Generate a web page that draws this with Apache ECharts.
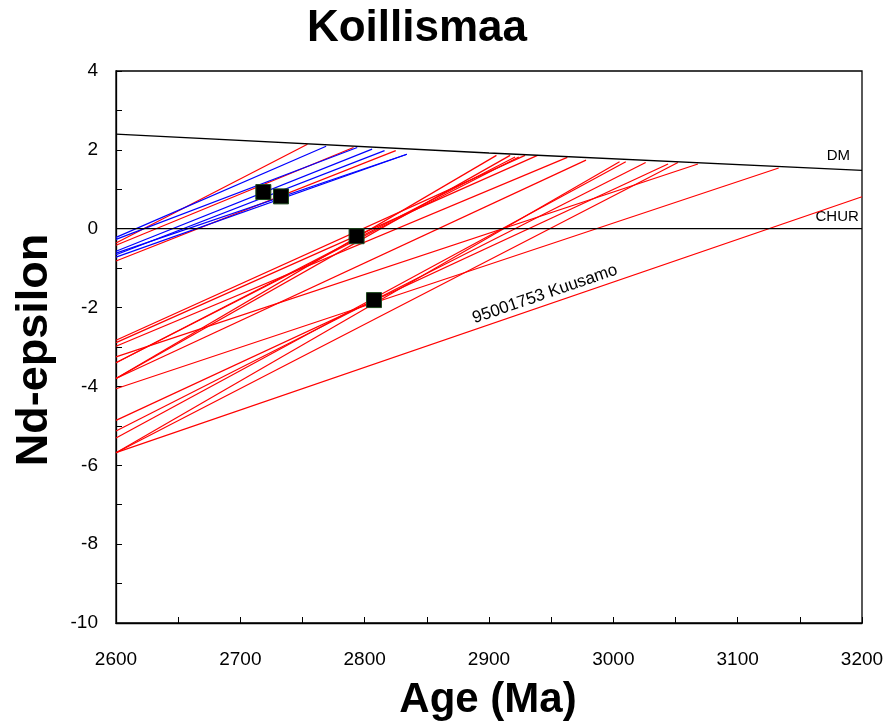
<!DOCTYPE html>
<html><head><meta charset="utf-8">
<script src="https://cdn.jsdelivr.net/npm/echarts@6/dist/echarts.min.js"></script>
<style>html,body{margin:0;padding:0;background:#fff}#c{width:888px;height:726px}</style>
</head><body><div id="c"></div>
<script>
// Nd evolution lines: epsilon at 2600 Ma, and end point (age, epsilon) at DM
const suite    = ['B','B','A','A','B','B','B','A','B', 'A','A','A','A','A','A','A','A','A','A','A','A','A','A','A','A'];
const startEps = [-0.22,-0.27,-0.36,-0.42,-0.57,-0.62,-0.66,-0.82,-0.72, -2.83,-2.89,-2.98,-3.25,-3.40,-3.40,-3.80,-3.80,-3.80,-4.06,-4.86,-5.13,-5.31,-5.68,-5.68,-5.68];
const endAge   = [2769,2794,2754,2791,2806,2834,2816,2825,2834, 2929,2939,2963,3068,2921,2924,2906,2917,2978,3133,3044,3026,3010,3005,3052,3200];
const endEps   = [2.09,2.06,2.14,2.06,2.02,1.89,1.98,1.98,1.89, 1.86,1.86,1.81,1.64,1.82,1.82,1.86,1.86,1.74,1.54,1.64,1.68,1.70,1.70,1.68,0.81];
// Depleted mantle and CHUR reference curves
const dmAge = [2600, 2900, 3200];
const dmEps = [2.40, 1.92, 1.48];
const churAge = [2600, 3200];
const churEps = [0, 0];
// Sample points (crystallization ages)
const ptAge = [2718.5, 2732.7, 2793.5, 2807.5];
const ptEps = [0.93, 0.82, -0.19, -1.81];
const xTicks = [2600, 2700, 2800, 2900, 3000, 3100, 3200];
const yTicks = [4, 2, 0, -2, -4, -6, -8, -10];
const kuusamoLabel = '95001753 Kuusamo';
const kuusamoLabelPos = [2945, -1.66];
const dmLabelPos = [3181, 1.86];
const churLabelPos = [3180, 0.29];

const FONT = 'Liberation Sans, Arial, sans-serif';
const chart = echarts.init(document.getElementById('c'));
const series = [];
for (let i = 0; i < startEps.length; i++) {
  series.push({
    type: 'line', showSymbol: false, silent: true, animation: false,
    data: [[2600, startEps[i]], [endAge[i], endEps[i]]],
    lineStyle: { color: suite[i] === 'B' ? '#0000ff' : '#ff0000', width: 1.2 },
    z: suite[i] === 'B' ? 3 : 2
  });
}
series.push({ type: 'line', showSymbol: false, animation: false,
  data: dmAge.map((a, i) => [a, dmEps[i]]), lineStyle: { color: '#000', width: 1.3 }, z: 4 });
series.push({ type: 'line', showSymbol: false, animation: false,
  data: churAge.map((a, i) => [a, churEps[i]]), lineStyle: { color: '#000', width: 1.3 }, z: 4 });
series.push({ type: 'scatter', symbol: 'rect', symbolSize: 15, animation: false,
  data: ptAge.map((a, i) => [a, ptEps[i]]),
  itemStyle: { color: '#000', opacity: 1, borderColor: '#1f4a1f', borderWidth: 1 }, z: 6 });

const lblFont = { fontFamily: FONT, fontSize: 19, color: '#000' };
chart.setOption({
  animation: false,
  grid: { left: 116, right: 26, top: 71, bottom: 103, show: true, borderColor: '#000', borderWidth: 1.3, backgroundColor: 'transparent' },
  xAxis: {
    type: 'value', min: 2600, max: 3200, interval: 50,
    axisLine: { show: true, onZero: false, lineStyle: { color: '#000', width: 1.3 } },
    axisTick: { show: true, inside: true, length: 6, lineStyle: { color: '#000' } },
    splitLine: { show: false },
    axisLabel: Object.assign({ margin: 27, formatter: v => xTicks.includes(v) ? String(v) : '' }, lblFont)
  },
  yAxis: {
    type: 'value', min: -10, max: 4, interval: 1,
    axisLine: { show: true, onZero: false, lineStyle: { color: '#000', width: 1.3 } },
    axisTick: { show: true, inside: true, length: 6, lineStyle: { color: '#000' } },
    splitLine: { show: false },
    axisLabel: Object.assign({ margin: 18, formatter: v => yTicks.includes(v) ? String(v) : '' }, lblFont)
  },
  series: series
});

const p = chart.convertToPixel({ gridIndex: 0 }, kuusamoLabelPos);
const dm = chart.convertToPixel({ gridIndex: 0 }, dmLabelPos);
const ch = chart.convertToPixel({ gridIndex: 0 }, churLabelPos);
const a0 = chart.convertToPixel({ gridIndex: 0 }, [2600, startEps[24]]);
const a1 = chart.convertToPixel({ gridIndex: 0 }, [3200, endEps[24]]);
const ang = Math.atan2(a0[1] - a1[1], a1[0] - a0[0]);
chart.setOption({
  graphic: [
    { type: 'text', x: 417, y: 29, style: { text: 'Koillismaa', fontFamily: FONT, fontWeight: 'bold', fontSize: 44, fill: '#000', textAlign: 'center', textVerticalAlign: 'middle' } },
    { type: 'text', x: p[0], y: p[1], rotation: ang, style: { text: kuusamoLabel, fontFamily: FONT, fontSize: 17, fill: '#000', textAlign: 'center', textVerticalAlign: 'middle' } },
    { type: 'text', x: dm[0], y: dm[1], style: { text: 'DM', fontFamily: FONT, fontSize: 15, fill: '#000', textAlign: 'center', textVerticalAlign: 'middle' } },
    { type: 'text', x: ch[0], y: ch[1], style: { text: 'CHUR', fontFamily: FONT, fontSize: 15, fill: '#000', textAlign: 'center', textVerticalAlign: 'middle' } },
    { type: 'text', x: 488, y: 700, style: { text: 'Age (Ma)', fontFamily: FONT, fontWeight: 'bold', fontSize: 42, fill: '#000', textAlign: 'center', textVerticalAlign: 'middle' } },
    { type: 'text', x: 35, y: 350, rotation: Math.PI / 2, style: { text: 'Nd-epsilon', fontFamily: FONT, fontWeight: 'bold', fontSize: 45, fill: '#000', textAlign: 'center', textVerticalAlign: 'middle' } }
  ]
});
</script></body></html>
